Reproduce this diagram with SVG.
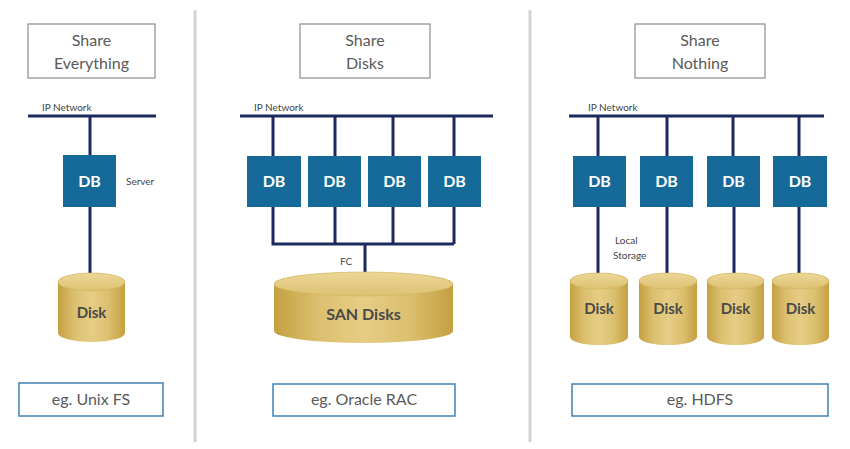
<svg xmlns="http://www.w3.org/2000/svg" width="850" height="449" viewBox="0 0 850 449">
<defs>
<linearGradient id="gold" x1="0" y1="0" x2="1" y2="0">
<stop offset="0" stop-color="#c4a040"/>
<stop offset="0.25" stop-color="#dcc070"/>
<stop offset="0.5" stop-color="#e6cd85"/>
<stop offset="0.75" stop-color="#dcc070"/>
<stop offset="1" stop-color="#c4a040"/>
</linearGradient>
<linearGradient id="goldTop" x1="0" y1="0" x2="0" y2="1">
<stop offset="0" stop-color="#ecd797"/>
<stop offset="1" stop-color="#dcc171"/>
</linearGradient>
</defs>
<style>
.sep{stroke:#d4d4d4;stroke-width:3}
.title{fill:#fff;stroke:#8c8c8c;stroke-width:1.2}
.ttl{font-family:Lato,"Liberation Sans",sans-serif;font-size:16px;fill:#5a5a5a;text-anchor:middle}
.eg{fill:#fff;stroke:#3f80b4;stroke-width:1.5}
.egt{font-family:Lato,"Liberation Sans",sans-serif;font-size:16px;fill:#5a5a5a;text-anchor:middle}
.net{stroke:#1d2a60;stroke-width:3;fill:none}
.db{fill:#166a99}
.dbt{font-family:Lato,"Liberation Sans",sans-serif;font-size:16px;font-weight:bold;fill:#fff;text-anchor:middle}
.lbl{font-family:Lato,"Liberation Sans",sans-serif;font-size:10px;fill:#444}
.cyl{fill:url(#gold)}
.cyltop{fill:url(#goldTop);stroke:#d2b35c;stroke-width:0.6}
.dk{font-family:Lato,"Liberation Sans",sans-serif;font-size:15px;font-weight:bold;fill:#4a4a48;text-anchor:middle}
</style>
<rect width="850" height="449" fill="#fff"/>
<g id="separators">
<line class="sep" x1="195" y1="10" x2="195" y2="442"/>
<line class="sep" x1="530" y1="10" x2="530" y2="442"/>
</g>
<g id="connectors">
<path class="net" d="M28 116H156M90 116V155M90 207V273"/>
<path class="net" d="M240 116H493M273 116V156M335 116V156M393 116V156M454 116V156M273 207V244H454M335 207V244M393 207V244M454 207V244M365 244V273"/>
<path class="net" d="M569 116H824M598 116V156M667 116V156M733 116V156M799 116V156M598 207V273M667 207V273M734 207V273M799 207V273"/>
</g>
<g id="panel1-title"><rect class="title" x="28" y="24" width="127" height="54"/><text class="ttl" x="91.5" y="46">Share</text><text class="ttl" x="91.5" y="69">Everything</text></g>
<g id="panel2-title"><rect class="title" x="300" y="24" width="130" height="54"/><text class="ttl" x="365" y="46">Share</text><text class="ttl" x="365" y="69">Disks</text></g>
<g id="panel3-title"><rect class="title" x="635" y="24" width="130" height="54"/><text class="ttl" x="700" y="46">Share</text><text class="ttl" x="700" y="69">Nothing</text></g>
<g id="labels">
<text class="lbl" x="42" y="111">IP Network</text>
<text class="lbl" x="254" y="111">IP Network</text>
<text class="lbl" x="588" y="111">IP Network</text>
<text class="lbl" x="126" y="185">Server</text>
<text class="lbl" x="340" y="265">FC</text>
<text class="lbl" x="615" y="244">Local</text>
<text class="lbl" x="613" y="259">Storage</text>
</g>
<g id="db1"><rect class="db" x="63" y="155" width="53" height="52"/><text class="dbt" x="89.5" y="187">DB</text></g>
<g id="db2a"><rect class="db" x="247" y="156" width="54" height="51"/><text class="dbt" x="274" y="187">DB</text></g>
<g id="db2b"><rect class="db" x="308" y="156" width="53" height="51"/><text class="dbt" x="334.5" y="187">DB</text></g>
<g id="db2c"><rect class="db" x="368" y="156" width="53" height="51"/><text class="dbt" x="394.5" y="187">DB</text></g>
<g id="db2d"><rect class="db" x="428" y="156" width="53" height="51"/><text class="dbt" x="454.5" y="187">DB</text></g>
<g id="db3a"><rect class="db" x="573" y="156" width="53" height="51"/><text class="dbt" x="599.5" y="187">DB</text></g>
<g id="db3b"><rect class="db" x="640" y="156" width="53" height="51"/><text class="dbt" x="666.5" y="187">DB</text></g>
<g id="db3c"><rect class="db" x="707" y="156" width="53" height="51"/><text class="dbt" x="733.5" y="187">DB</text></g>
<g id="db3d"><rect class="db" x="773" y="156" width="54" height="51"/><text class="dbt" x="800" y="187">DB</text></g>
<g id="disk1"><path class="cyl" d="M58 282A33.5 9 0 0 1 125 282V333A33.5 9 0 0 1 58 333Z"/><ellipse class="cyltop" cx="91.5" cy="282" rx="33.5" ry="9"/><text class="dk" x="91.5" y="318">Disk</text></g>
<g id="san"><path class="cyl" d="M274 284A89.5 12 0 0 1 453 284V331A89.5 12 0 0 1 274 331Z"/><ellipse class="cyltop" cx="363.5" cy="284" rx="89.5" ry="12"/><text class="dk" x="363.5" y="320" style="font-size:16px">SAN Disks</text></g>
<g id="disk3a"><path class="cyl" d="M570 281A29 8 0 0 1 628 281V337A29 8 0 0 1 570 337Z"/><ellipse class="cyltop" cx="599" cy="281" rx="29" ry="8"/><text class="dk" x="599" y="314">Disk</text></g>
<g id="disk3b"><path class="cyl" d="M639 281A29 8 0 0 1 697 281V337A29 8 0 0 1 639 337Z"/><ellipse class="cyltop" cx="668" cy="281" rx="29" ry="8"/><text class="dk" x="668" y="314">Disk</text></g>
<g id="disk3c"><path class="cyl" d="M707 281A28.5 8 0 0 1 764 281V337A28.5 8 0 0 1 707 337Z"/><ellipse class="cyltop" cx="735.5" cy="281" rx="28.5" ry="8"/><text class="dk" x="735.5" y="314">Disk</text></g>
<g id="disk3d"><path class="cyl" d="M772 281A28.5 8 0 0 1 829 281V337A28.5 8 0 0 1 772 337Z"/><ellipse class="cyltop" cx="800.5" cy="281" rx="28.5" ry="8"/><text class="dk" x="800.5" y="314">Disk</text></g>
<g id="eg1"><rect class="eg" x="19" y="383" width="144" height="33"/><text class="egt" x="91" y="405">eg. Unix FS</text></g>
<g id="eg2"><rect class="eg" x="273" y="384" width="182" height="32"/><text class="egt" x="364" y="405">eg. Oracle RAC</text></g>
<g id="eg3"><rect class="eg" x="572" y="384" width="256" height="32"/><text class="egt" x="700" y="405">eg. HDFS</text></g>
</svg>
